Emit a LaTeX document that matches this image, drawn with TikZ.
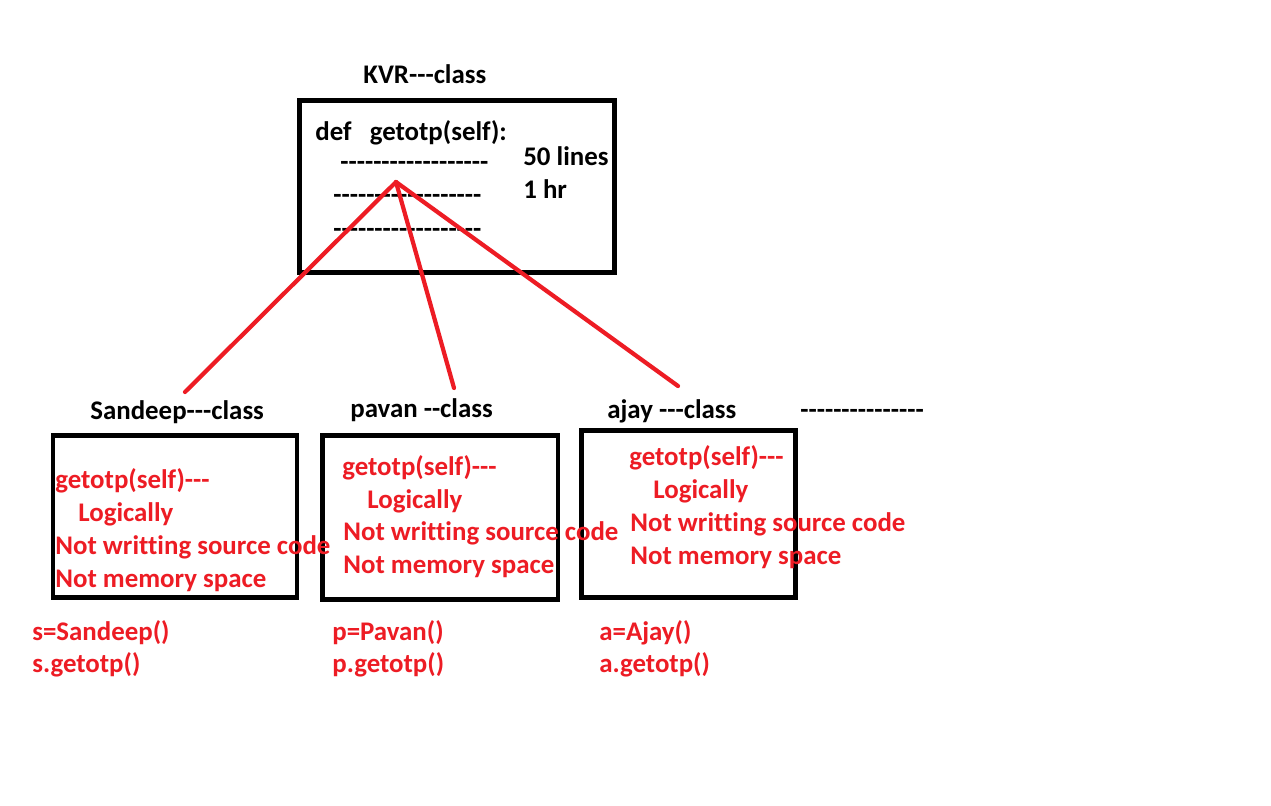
\documentclass[tikz,border=0pt]{standalone}
\usepackage{fontspec}
\newfontfamily\calfont{Carlito}[Ligatures={NoCommon}]
\usepackage{tikz}
\definecolor{paintred}{HTML}{ED1C24}
\tikzset{
  box/.style={line width=2.6pt, draw=black},
  txt/.style={font=\calfont\bfseries\fontsize{15.3}{18}\selectfont, inner sep=0pt, anchor=base west},
  redtxt/.style={txt, text=paintred},
  redline/.style={line width=2.4pt, draw=paintred, line cap=round}
}

\begin{document}
\begin{tikzpicture}[x=0.02cm, y=-0.02cm]
		%%%%% START %%%%%
		\useasboundingbox[fill=white] (0, 0) rectangle (1271, 805);
		
		% base class
		\draw[box] (299.5, 100.5) rectangle (614.5, 272.5);
		\node[txt] (kvrtitle) at (363, 83) {KVR---class};
		\node[txt] (kvrdef) at (315, 140) {def~~~getotp(self):};
		\node[txt] (kvrdashA) at (340, 170) {------------------};
		\node[txt] (kvrdashB) at (333, 203) {------------------};
		\node[txt] (kvrdashC) at (333, 237) {------------------};
		\node[txt] (kvrlines) at (523, 165) {50 lines};
		\node[txt] (kvrhr) at (523, 198) {1 hr};
		
		% child classes
		\draw[box] (53, 435.5) rectangle (297, 597.5);
		\draw[box] (322.5, 435.5) rectangle (558, 599.5);
		\draw[box] (581.5, 430.5) rectangle (795.5, 597.5);
		
		\node[txt] (sandeeptitle) at (90, 419) {Sandeep---class};
		\node[txt] (pavantitle) at (350, 417) {pavan --class};
		\node[txt] (ajaytitle) at (607, 418) {ajay ---class};
		\node[txt] (moredash) at (800, 418) {---------------};
		
		\node[redtxt] (sandeepA) at (55, 488) {getotp(self)---};
		\node[redtxt] (sandeepB) at (78, 521) {Logically};
		\node[redtxt] (sandeepC) at (55, 554) {Not writting source code};
		\node[redtxt] (sandeepD) at (55, 587) {Not memory space};
		
		\node[redtxt] (pavanA) at (342, 475) {getotp(self)---};
		\node[redtxt] (pavanB) at (367, 508) {Logically};
		\node[redtxt] (pavanC) at (343, 540) {Not writting source code};
		\node[redtxt] (pavanD) at (343, 573) {Not memory space};
		
		\node[redtxt] (ajayA) at (629, 465) {getotp(self)---};
		\node[redtxt] (ajayB) at (653, 498) {Logically};
		\node[redtxt] (ajayC) at (630, 531) {Not writting source code};
		\node[redtxt] (ajayD) at (630, 564) {Not memory space};
		
		% objects
		\node[redtxt] (sobj) at (32, 640) {s=Sandeep()};
		\node[redtxt] (scall) at (32, 672) {s.getotp()};
		\node[redtxt] (pobj) at (332, 640) {p=Pavan()};
		\node[redtxt] (pcall) at (332, 672) {p.getotp()};
		\node[redtxt] (aobj) at (599, 640) {a=Ajay()};
		\node[redtxt] (acall) at (599, 672) {a.getotp()};
		
		% inheritance strokes
		\coordinate (apex) at (396, 182);
		\coordinate (sandeeptop) at (185, 392);
		\coordinate (pavantop) at (454, 388);
		\coordinate (ajaytop) at (678, 386);
		\draw[redline] (apex) -- (sandeeptop);
		\draw[redline] (apex) -- (pavantop);
		\draw[redline] (apex) -- (ajaytop);
		%%%%% END %%%%%
\end{tikzpicture}
\end{document}
